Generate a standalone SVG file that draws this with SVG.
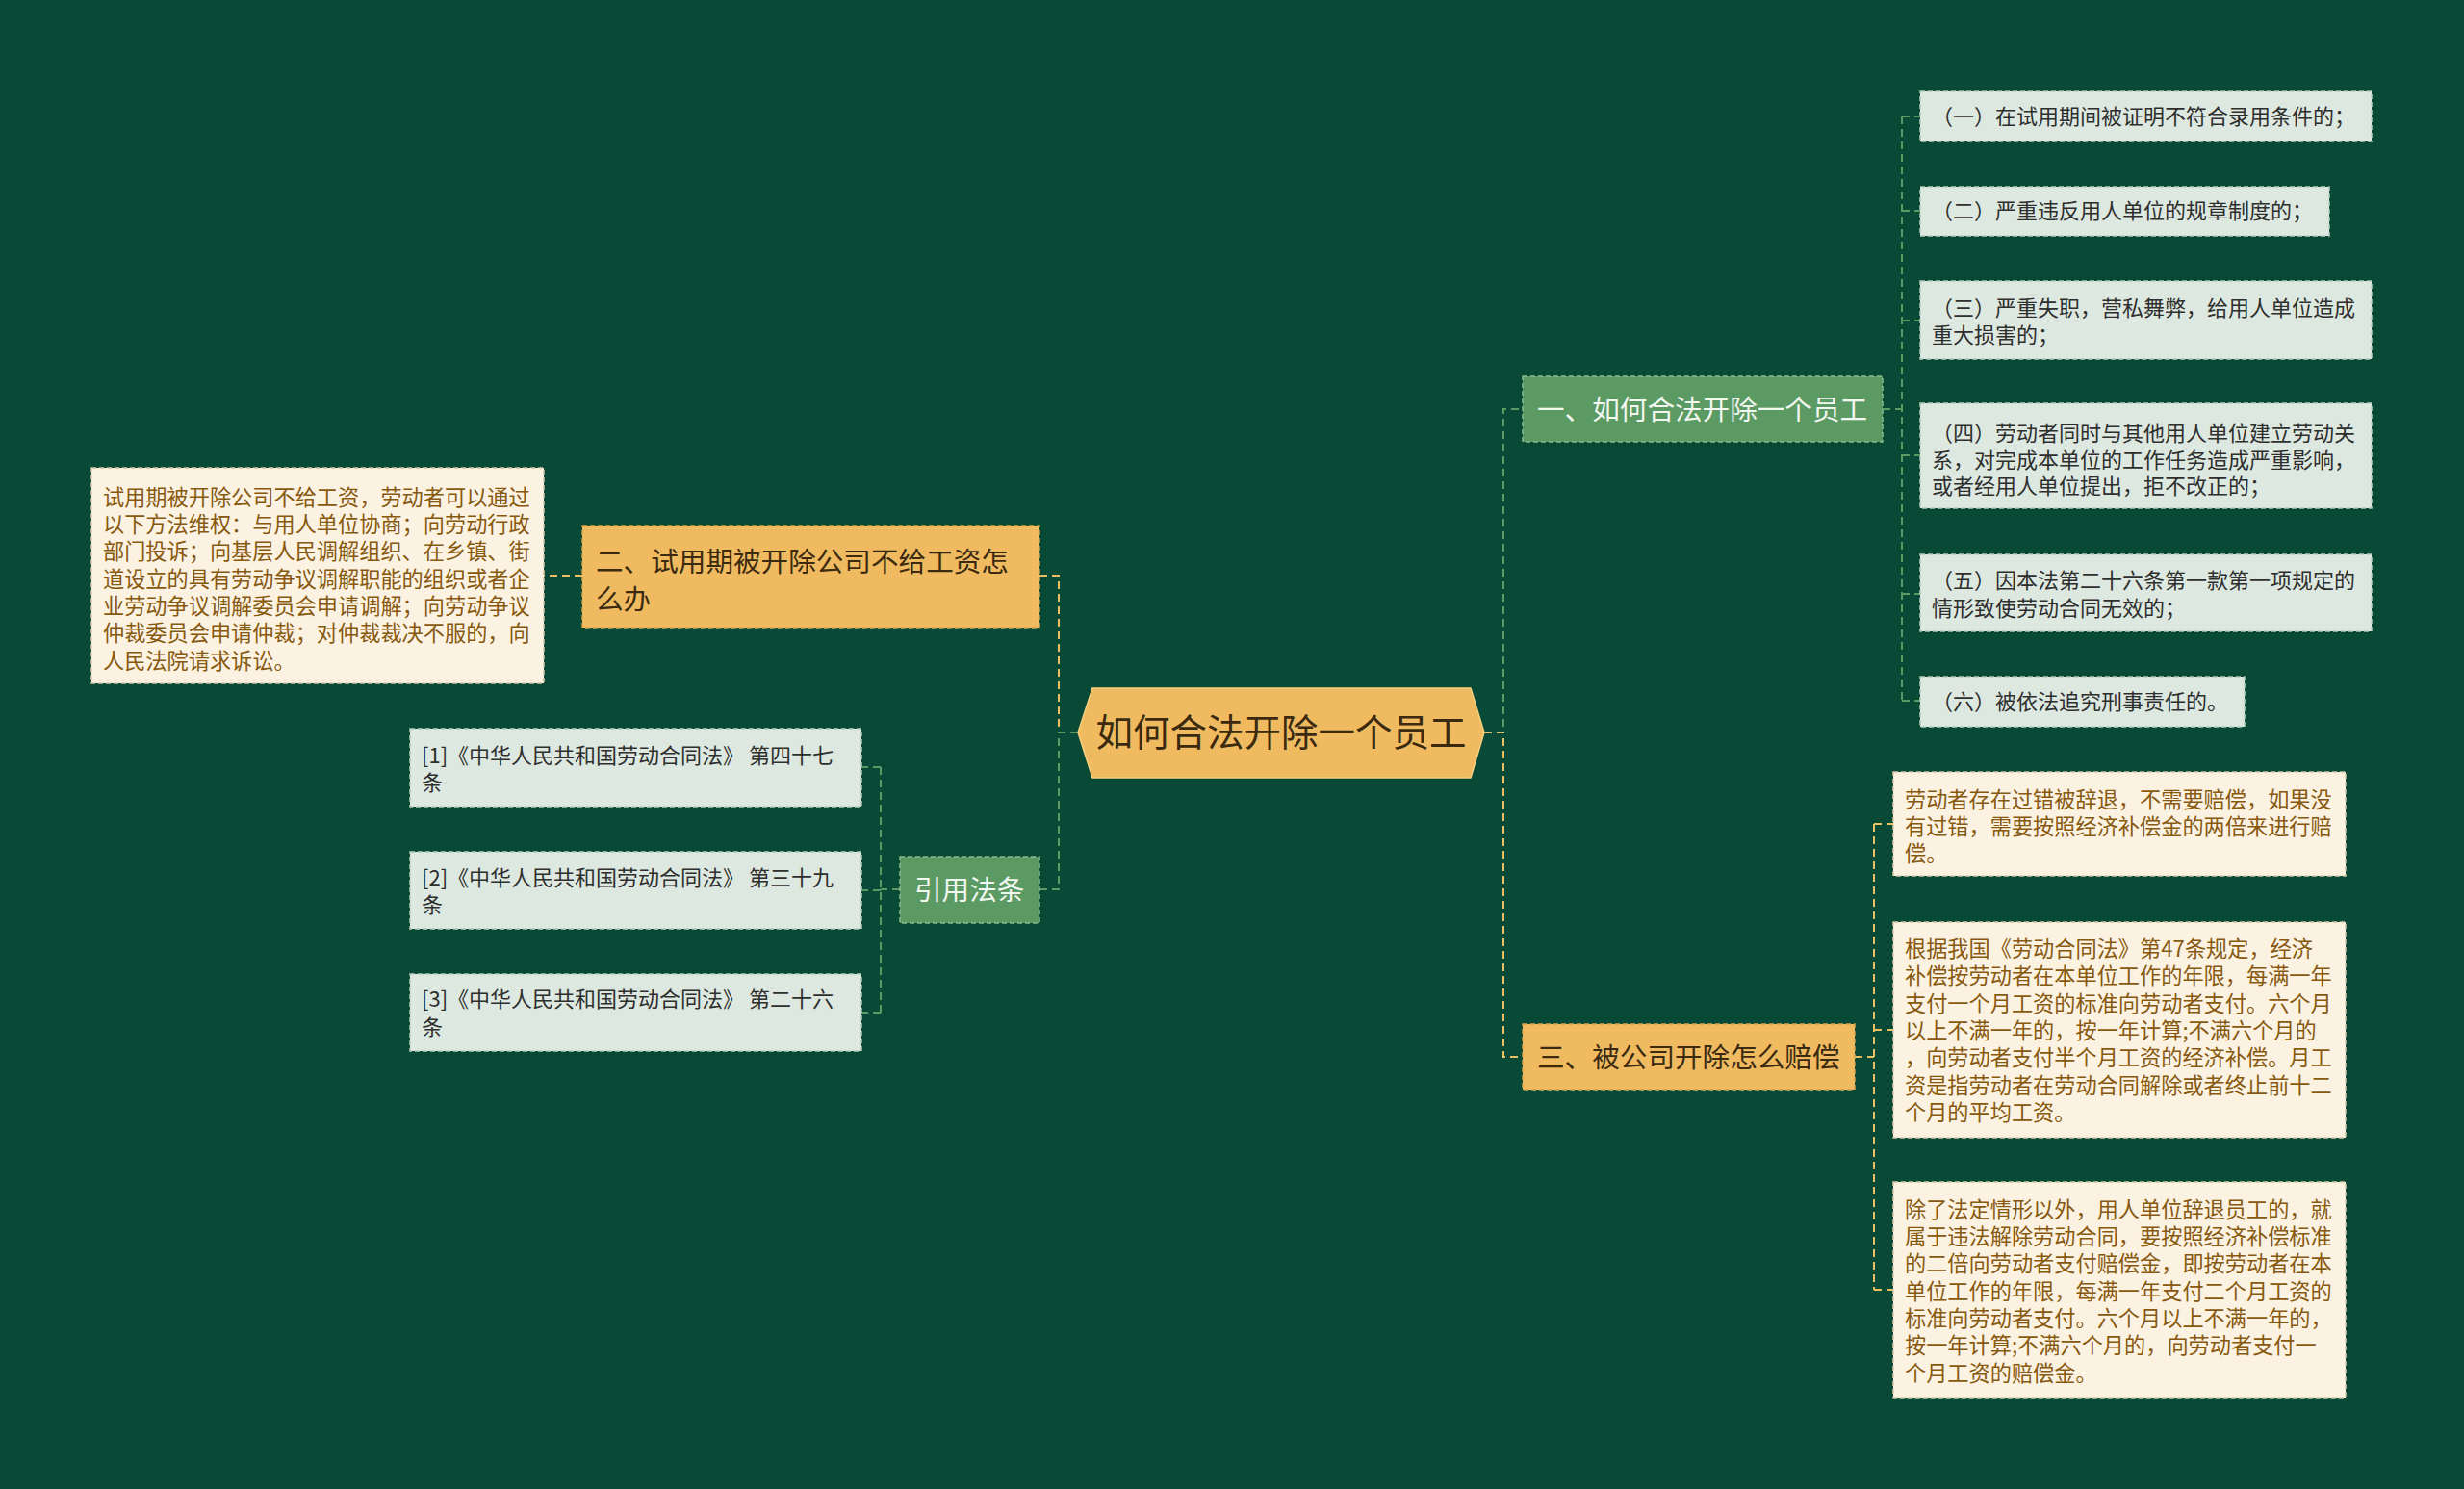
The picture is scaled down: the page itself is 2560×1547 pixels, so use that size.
<svg xmlns="http://www.w3.org/2000/svg" width="2560" height="1547" viewBox="0 0 2560 1547">
<style>
text{font-family:"Noto Sans CJK SC","Noto Sans",sans-serif;}
.leaf{fill:#dde9e0;stroke:#b7cdbd;stroke-width:1.5;stroke-dasharray:5 3;}
.leaft{font-size:22px;fill:#2e2e2e;}
.note{fill:#fcf2e2;stroke:#d9c7a6;stroke-width:1.5;stroke-dasharray:5 3;}
.notet{font-size:22.2px;fill:#87590f;}
.gb{fill:#5b9a63;stroke:#88b98f;stroke-width:1.5;stroke-dasharray:5 3;}
.gbt{font-size:28.6px;fill:#f2f7f0;}
.ob{fill:#f0bb60;stroke:#d9a24a;stroke-width:1.5;stroke-dasharray:5 3;}
.obt{font-size:28.6px;fill:#3b2a10;}
.cg{fill:none;stroke:#5b9a63;stroke-width:2;stroke-dasharray:8 5;}
.cy{fill:none;stroke:#e9c063;stroke-width:2;stroke-dasharray:8 5;}
</style>
<rect x="0" y="0" width="2560" height="1547" fill="#094a37"/>

<g id="connectors">
  <path class="cy" d="M1120 761 H1100 V598 H1080"/>
  <path class="cg" d="M1120 761 H1100 V924 H1080"/>
  <path class="cg" d="M1542 761 H1562 V425 H1582"/>
  <path class="cy" d="M1542 761 H1562 V1098 H1582"/>
  <path class="cy" d="M605 598 H565"/>
  <path class="cg" d="M935 924 H915 M915 797 V1052 M915 797 H895 M915 925 H895 M915 1052 H895"/>
  <path class="cg" d="M1956 425 H1976 M1976 121 V728 M1976 121 H1995 M1976 219 H1995 M1976 333 H1995 M1976 473 H1995 M1976 617 H1995 M1976 728 H1995"/>
  <path class="cy" d="M1927 1098 H1947 M1947 856 V1340 M1947 856 H1967 M1947 1070 H1967 M1947 1340 H1967"/>
</g>

<g id="center">
  <polygon points="1120,761 1135,715 1528,715 1542,761 1528,808 1135,808" fill="#f0bb60" stroke="#f5cf7e" stroke-width="1.5"/>
  <text x="1331" y="775" font-size="38.5" fill="#3b2a10" text-anchor="middle">如何合法开除一个员工</text>
</g>

<g id="b1">
  <rect class="gb" x="1582" y="391" width="374" height="68"/>
  <text class="gbt" x="1597" y="436">一、如何合法开除一个员工</text>
</g>
<g id="b1-1">
  <rect class="leaf" x="1995" y="95" width="469" height="52"/>
  <text class="leaft" x="2007" y="129">（一）在试用期间被证明不符合录用条件的；</text>
</g>
<g id="b1-2">
  <rect class="leaf" x="1995" y="194" width="425" height="51"/>
  <text class="leaft" x="2007" y="227">（二）严重违反用人单位的规章制度的；</text>
</g>
<g id="b1-3">
  <rect class="leaf" x="1995" y="292" width="469" height="81"/>
  <text class="leaft" x="2007" y="328">（三）严重失职，营私舞弊，给用人单位造成</text>
  <text class="leaft" x="2007" y="356">重大损害的；</text>
</g>
<g id="b1-4">
  <rect class="leaf" x="1995" y="419" width="469" height="109"/>
  <text class="leaft" x="2007" y="458">（四）劳动者同时与其他用人单位建立劳动关</text>
  <text class="leaft" x="2007" y="486">系，对完成本单位的工作任务造成严重影响，</text>
  <text class="leaft" x="2007" y="513">或者经用人单位提出，拒不改正的；</text>
</g>
<g id="b1-5">
  <rect class="leaf" x="1995" y="576" width="469" height="80"/>
  <text class="leaft" x="2007" y="611">（五）因本法第二十六条第一款第一项规定的</text>
  <text class="leaft" x="2007" y="640">情形致使劳动合同无效的；</text>
</g>
<g id="b1-6">
  <rect class="leaf" x="1995" y="703" width="337" height="52"/>
  <text class="leaft" x="2007" y="737">（六）被依法追究刑事责任的。</text>
</g>

<g id="b2">
  <rect class="ob" x="605" y="546" width="475" height="106"/>
  <text class="obt" x="619" y="594">二、试用期被开除公司不给工资怎</text>
  <text class="obt" x="619" y="633">么办</text>
</g>
<g id="b2-1">
  <rect class="note" x="95" y="486" width="470" height="224"/>
  <text class="notet" x="107" y="525">试用期被开除公司不给工资，劳动者可以通过</text>
  <text class="notet" x="107" y="553">以下方法维权：与用人单位协商；向劳动行政</text>
  <text class="notet" x="107" y="581">部门投诉；向基层人民调解组织、在乡镇、街</text>
  <text class="notet" x="107" y="610">道设立的具有劳动争议调解职能的组织或者企</text>
  <text class="notet" x="107" y="638">业劳动争议调解委员会申请调解；向劳动争议</text>
  <text class="notet" x="107" y="666">仲裁委员会申请仲裁；对仲裁裁决不服的，向</text>
  <text class="notet" x="107" y="695">人民法院请求诉讼。</text>
</g>

<g id="b3">
  <rect class="ob" x="1582" y="1064" width="345" height="68"/>
  <text class="obt" x="1597" y="1109">三、被公司开除怎么赔偿</text>
</g>
<g id="b3-1">
  <rect class="note" x="1967" y="802" width="470" height="108"/>
  <text class="notet" x="1979" y="839">劳动者存在过错被辞退，不需要赔偿，如果没</text>
  <text class="notet" x="1979" y="867">有过错，需要按照经济补偿金的两倍来进行赔</text>
  <text class="notet" x="1979" y="895">偿。</text>
</g>
<g id="b3-2">
  <rect class="note" x="1967" y="958" width="470" height="224"/>
  <text class="notet" x="1979" y="994">根据我国《劳动合同法》第47条规定，经济</text>
  <text class="notet" x="1979" y="1022">补偿按劳动者在本单位工作的年限，每满一年</text>
  <text class="notet" x="1979" y="1051">支付一个月工资的标准向劳动者支付。六个月</text>
  <text class="notet" x="1979" y="1079">以上不满一年的，按一年计算;不满六个月的</text>
  <text class="notet" x="1979" y="1107">，向劳动者支付半个月工资的经济补偿。月工</text>
  <text class="notet" x="1979" y="1136">资是指劳动者在劳动合同解除或者终止前十二</text>
  <text class="notet" x="1979" y="1164">个月的平均工资。</text>
</g>
<g id="b3-3">
  <rect class="note" x="1967" y="1228" width="470" height="224"/>
  <text class="notet" x="1979" y="1265">除了法定情形以外，用人单位辞退员工的，就</text>
  <text class="notet" x="1979" y="1293">属于违法解除劳动合同，要按照经济补偿标准</text>
  <text class="notet" x="1979" y="1321">的二倍向劳动者支付赔偿金，即按劳动者在本</text>
  <text class="notet" x="1979" y="1350">单位工作的年限，每满一年支付二个月工资的</text>
  <text class="notet" x="1979" y="1378">标准向劳动者支付。六个月以上不满一年的，</text>
  <text class="notet" x="1979" y="1406">按一年计算;不满六个月的，向劳动者支付一</text>
  <text class="notet" x="1979" y="1435">个月工资的赔偿金。</text>
</g>

<g id="b4">
  <rect class="gb" x="935" y="890" width="145" height="69"/>
  <text class="gbt" x="950" y="935">引用法条</text>
</g>
<g id="b4-1">
  <rect class="leaf" x="426" y="757" width="469" height="81"/>
  <text class="leaft" x="438" y="793">[1]《中华人民共和国劳动合同法》 第四十七</text>
  <text class="leaft" x="438" y="821">条</text>
</g>
<g id="b4-2">
  <rect class="leaf" x="426" y="885" width="469" height="80"/>
  <text class="leaft" x="438" y="920">[2]《中华人民共和国劳动合同法》 第三十九</text>
  <text class="leaft" x="438" y="948">条</text>
</g>
<g id="b4-3">
  <rect class="leaf" x="426" y="1012" width="469" height="80"/>
  <text class="leaft" x="438" y="1046">[3]《中华人民共和国劳动合同法》 第二十六</text>
  <text class="leaft" x="438" y="1075">条</text>
</g>
</svg>
